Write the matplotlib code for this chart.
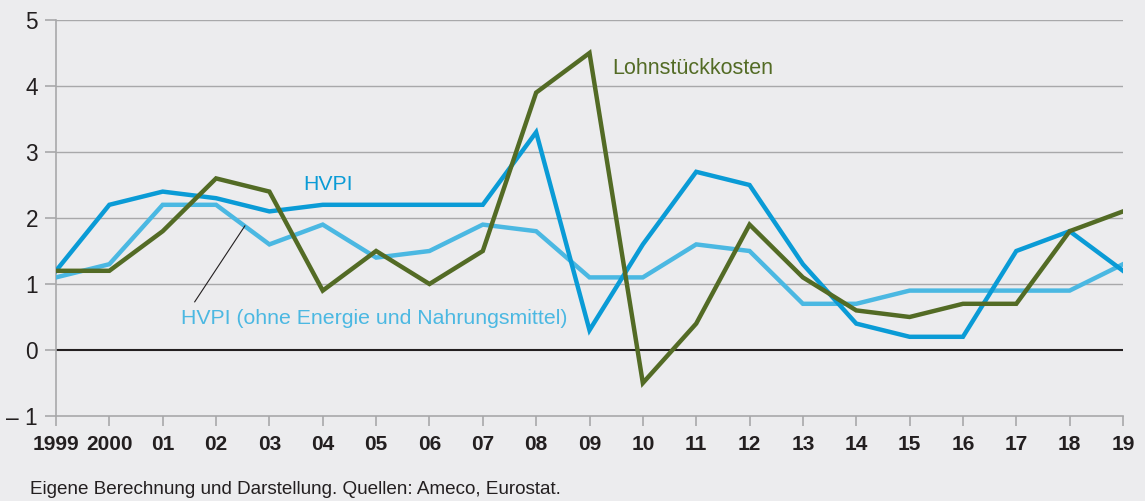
import numpy as np
import matplotlib.pyplot as plt

# Data
years = list(range(1999, 2020))
year_labels = ['1999', '2000', '01', '02', '03', '04', '05', '06', '07', '08', '09',
               '10', '11', '12', '13', '14', '15', '16', '17', '18', '19']
hvpi = [1.2, 2.2, 2.4, 2.3, 2.1, 2.2, 2.2, 2.2, 2.2, 3.3, 0.3,
        1.6, 2.7, 2.5, 1.3, 0.4, 0.2, 0.2, 1.5, 1.8, 1.2]
hvpi_core = [1.1, 1.3, 2.2, 2.2, 1.6, 1.9, 1.4, 1.5, 1.9, 1.8, 1.1,
             1.1, 1.6, 1.5, 0.7, 0.7, 0.9, 0.9, 0.9, 0.9, 1.3]
lohn = [1.2, 1.2, 1.8, 2.6, 2.4, 0.9, 1.5, 1.0, 1.5, 3.9, 4.5,
        -0.5, 0.4, 1.9, 1.1, 0.6, 0.5, 0.7, 0.7, 1.8, 2.1]

bg = '#ececee'
c_hvpi = '#0a9bd6'
c_core = '#4bb8e2'
c_lohn = '#536b25'
grid_c = '#a8a8aa'

plt.rcParams['font.family'] = ['Liberation Sans', 'DejaVu Sans']

fig = plt.figure(figsize=(11.45, 5.01), dpi=100, facecolor=bg)
ax = fig.add_axes([56 / 1145, 1 - 416 / 501, (1123 - 56) / 1145, 396 / 501])
ax.set_facecolor(bg)

ax.set_xlim(1999, 2019)
ax.set_ylim(-1, 5)

for v in [1, 2, 3, 4, 5]:
    ax.axhline(v, color=grid_c, lw=1.0, zorder=1)
ax.axhline(0, color='#231f20', lw=1.5, zorder=2)

ax.plot(years, hvpi_core, color=c_core, lw=3.2, solid_joinstyle='miter', zorder=3)
ax.plot(years, hvpi, color=c_hvpi, lw=3.2, solid_joinstyle='miter', zorder=4)
ax.plot(years, lohn, color=c_lohn, lw=3.2, solid_joinstyle='miter', zorder=5)

for s in ['top', 'right']:
    ax.spines[s].set_visible(False)
ax.spines['left'].set_color(grid_c)
ax.spines['bottom'].set_color(grid_c)
ax.spines['left'].set_linewidth(1.2)
ax.spines['bottom'].set_linewidth(1.2)

ax.set_yticks(range(-1, 6))
ax.set_yticklabels(['\u2013 1', '0', '1', '2', '3', '4', '5'], fontsize=16.3, color='#231f20')
ax.set_xticks(years)
ax.set_xticklabels(year_labels, fontsize=15, fontweight='bold', color='#231f20')
ax.tick_params(axis='y', length=8, width=1.2, color=grid_c, pad=5)
ax.tick_params(axis='x', length=7, width=1.2, color=grid_c, pad=7)

# Series labels
ax.text(2004.1, 2.5, 'HVPI', color=c_hvpi, fontsize=15.3, ha='center', va='center')
ax.text(2009.42, 4.26, 'Lohnstückkosten', color=c_lohn, fontsize=15.5, ha='left', va='center')
ax.text(2001.34, 0.48, 'HVPI (ohne Energie und Nahrungsmittel)', color=c_core,
        fontsize=15.3, ha='left', va='center')
ax.plot([2001.6, 2002.54], [0.73, 1.88], color='#231f20', lw=0.8, zorder=6)

fig.text(30 / 1145, 1 - 490 / 501, 'Eigene Berechnung und Darstellung. Quellen: Ameco, Eurostat.',
         fontsize=13.6, color='#231f20', ha='left', va='center')

fig.savefig('out.png', dpi=100, facecolor=bg)
